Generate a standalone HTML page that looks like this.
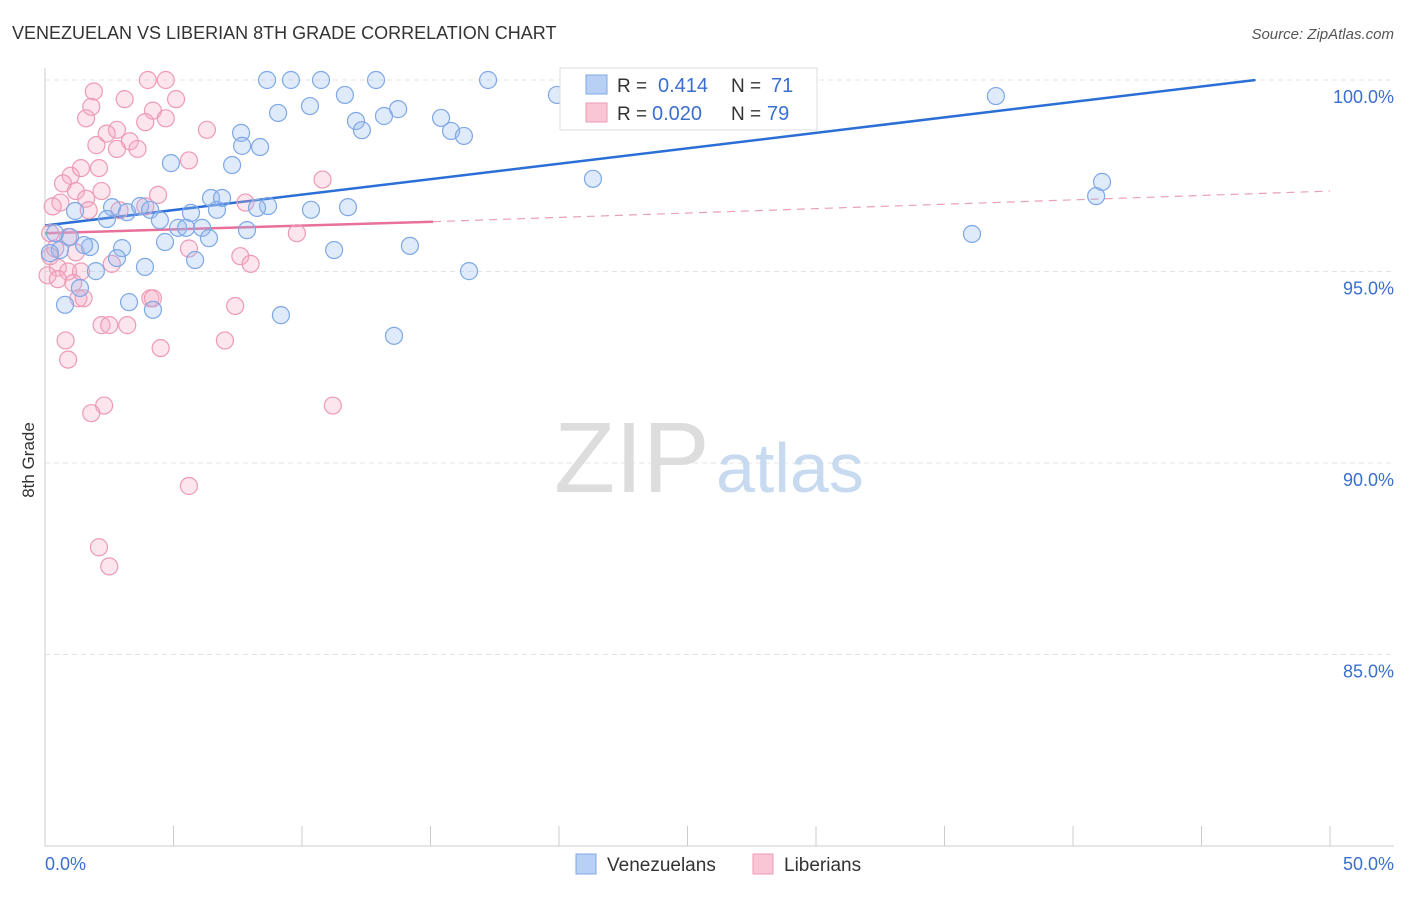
<!DOCTYPE html>
<html><head><meta charset="utf-8"><style>
body{margin:0;background:#fff;font-family:"Liberation Sans",sans-serif;}
svg text{font-family:"Liberation Sans",sans-serif;}
</style></head><body>
<svg width="1406" height="892">
<text x="12" y="39" font-size="18" fill="#333">VENEZUELAN VS LIBERIAN 8TH GRADE CORRELATION CHART</text>
<text x="1394" y="39" font-size="15" fill="#555" font-style="italic" text-anchor="end">Source: ZipAtlas.com</text>
<text x="34" y="460" font-size="17" fill="#333" transform="rotate(-90 34 460)" text-anchor="middle">8th Grade</text>
<g id="grid"></g>
<g id="axes"></g>
<text x="554" y="492" font-size="100" fill="#ddd" font-family="Liberation Serif">ZIP</text>
<text x="716" y="492" font-size="70" fill="#c8daf0">atlas</text>
<g id="lines"></g>
<g id="pts"></g>
<g>
<rect x="560" y="68" width="257" height="62" fill="#fff" stroke="#ddd"/>
<rect x="586" y="75" width="21" height="19" fill="#b8d0f4" stroke="#7ea8e6"/>
<rect x="586" y="103" width="21" height="19" fill="#f9c6d6" stroke="#ee9ab5"/>
<text x="617" y="92" font-size="19" fill="#333">R = </text><text x="658" y="92" font-size="20" fill="#3a6fd0">0.414</text>
<text x="731" y="92" font-size="19" fill="#333">N = </text><text x="771" y="92" font-size="20" fill="#3a6fd0">71</text>
<text x="617" y="120" font-size="19" fill="#333">R = </text><text x="652" y="120" font-size="20" fill="#3a6fd0">0.020</text>
<text x="731" y="120" font-size="19" fill="#333">N = </text><text x="767" y="120" font-size="20" fill="#3a6fd0">79</text>
</g>
<g>
<rect x="576" y="854" width="20" height="20" fill="#b8d0f4" stroke="#7ea8e6"/>
<text x="607" y="871" font-size="19" fill="#333">Venezuelans</text>
<rect x="753" y="854" width="20" height="20" fill="#f9c6d6" stroke="#ee9ab5"/>
<text x="784" y="871" font-size="19" fill="#333">Liberians</text>
</g>
<text x="45" y="870" font-size="18" fill="#3a6fd0">0.0%</text>
<text x="1394" y="870" font-size="18" fill="#3a6fd0" text-anchor="end">50.0%</text>
</svg>
<script>
const yTicks=[100,95,90,85];
const yTickLabels=["100.0%","95.0%","90.0%","85.0%"];
const blueX=[8.64,9.57,10.74,12.88,17.24,19.92,37.0,10.31,11.67,13.74,13.19,9.07,12.1,12.33,15.41,15.8,16.3,7.63,7.67,8.37,4.9,7.28,21.32,41.13,40.9,6.46,6.89,8.68,8.25,6.69,10.35,11.79,1.17,2.61,3.19,3.7,4.09,2.41,4.47,5.68,5.18,5.49,6.11,7.86,6.38,36.07,0.39,0.97,4.67,1.75,1.52,3.0,11.25,14.2,0.58,0.19,2.8,5.84,3.89,1.98,16.5,1.36,3.27,0.78,4.2,9.18,13.58];
const blueY=[100,100,100,100,100,99.61,99.58,99.32,99.61,99.24,99.06,99.14,98.93,98.69,99.01,98.67,98.54,98.62,98.28,98.25,97.83,97.78,97.42,97.34,96.97,96.92,96.92,96.71,96.66,96.61,96.61,96.68,96.58,96.68,96.55,96.71,96.61,96.37,96.34,96.53,96.14,96.14,96.14,96.08,95.87,95.98,96.0,95.9,95.77,95.64,95.69,95.61,95.56,95.67,95.56,95.48,95.35,95.3,95.12,95.01,95.01,94.57,94.2,94.13,94.0,93.86,93.32];
const pinkX=[4.0,4.7,1.9,3.1,5.1,1.8,4.2,1.6,4.7,3.9,6.3,2.8,2.4,3.3,2.0,3.6,2.8,5.6,2.1,1.0,1.4,10.8,0.7,1.2,2.2,4.4,1.6,0.6,2.9,3.9,0.3,7.8,1.7,9.8,0.9,0.2,5.6,0.4,1.2,0.2,7.6,8.0,2.6,0.5,0.9,1.4,0.1,0.5,1.1,4.1,4.2,1.3,1.5,7.4,2.2,2.5,3.2,0.8,4.5,7.0,0.9,11.2,2.3,1.8,5.6,2.1,2.5];
const pinkY=[100,100,99.7,99.5,99.5,99.3,99.2,99.0,99.0,98.9,98.7,98.7,98.6,98.4,98.3,98.2,98.2,97.9,97.7,97.5,97.7,97.4,97.3,97.1,97.1,97.0,96.9,96.8,96.6,96.7,96.7,96.8,96.6,96.0,95.9,96.0,95.6,95.6,95.5,95.4,95.4,95.2,95.2,95.1,95.0,95.0,94.9,94.8,94.7,94.3,94.3,94.3,94.3,94.1,93.6,93.6,93.6,93.2,93.0,93.2,92.7,91.5,91.5,91.3,89.4,87.8,87.3];
const blueLine=[0,96.2,47.1,100];
const pinkLine=[0,96.0,15.1,96.3,50,97.1];
const NS="http://www.w3.org/2000/svg";
const x=v=>45+v/50*1285, y=v=>80+(100-v)*38.3;
function mk(t,a,p){const e=document.createElementNS(NS,t);for(const k in a)e.setAttribute(k,a[k]);p.appendChild(e);return e;}
const grid=document.getElementById('grid'),axes=document.getElementById('axes'),lines=document.getElementById('lines'),pts=document.getElementById('pts');
yTicks.forEach((t,i)=>{const l=mk('line',{x1:45,x2:1394,y1:y(t),y2:y(t),stroke:'#e4e4e4','stroke-dasharray':'5,4'},grid);


const tx=mk('text',{x:1394,y:y(t)+23,'font-size':18,fill:'#3a6fd0','text-anchor':'end'},grid);tx.textContent=yTickLabels[i];

});
const ax=mk('line',{x1:45,x2:45,y1:68,y2:846,stroke:'#ccc'},axes);


const bx=mk('line',{x1:45,x2:1394,y1:846,y2:846,stroke:'#ccc'},axes);


for(let i=0;i<=10;i++){const tk=mk('line',{x1:x(i*5),x2:x(i*5),y1:826,y2:846,stroke:'#ccc'},axes);

}
function dots(X,Y,f,s,n){X.forEach((v,i)=>{const c=mk('circle',{cx:x(v),cy:y(Y[i]),r:8.5,fill:f,stroke:s,'stroke-width':1.2},pts);

});}
dots(pinkX,pinkY,'rgba(246,170,195,0.3)','#ee9ab5','liberian-point');
dots(blueX,blueY,'rgba(150,185,240,0.3)','#7ea8e6','venezuelan-point');
const bl=mk('line',{x1:x(blueLine[0]),y1:y(blueLine[1]),x2:x(blueLine[2]),y2:y(blueLine[3]),stroke:'#2b6fd6','stroke-width':2.5},lines);


const pl=mk('line',{x1:x(pinkLine[0]),y1:y(pinkLine[1]),x2:x(pinkLine[2]),y2:y(pinkLine[3]),stroke:'#e8709a','stroke-width':2.5},lines);


const pd=mk('line',{x1:x(pinkLine[2]),y1:y(pinkLine[3]),x2:x(pinkLine[4]),y2:y(pinkLine[5]),stroke:'#e8a0b8','stroke-width':1.2,'stroke-dasharray':'8,6'},lines);


</script>
</body></html>
